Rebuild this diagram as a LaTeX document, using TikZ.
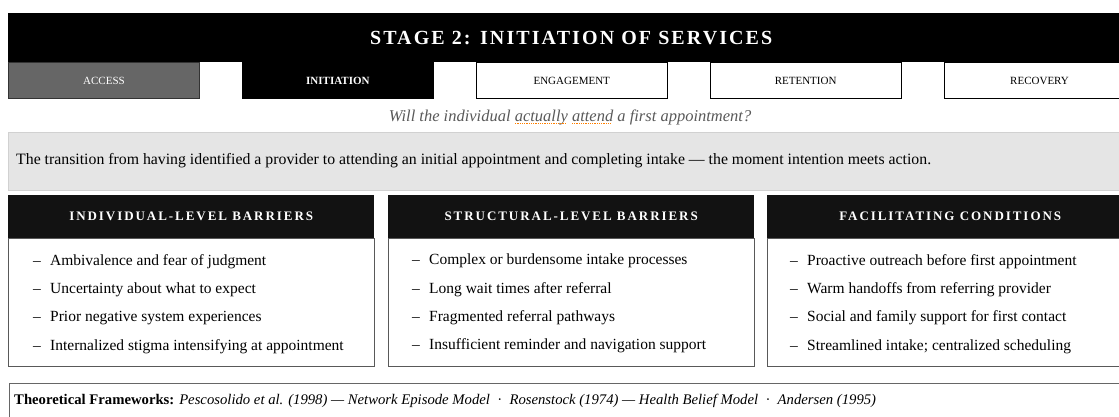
\documentclass[tikz,border=0pt]{standalone}
\usepackage{fontspec}
\setmainfont{Liberation Serif}
\newfontfamily\spacedserif[LetterSpace=10.5]{Liberation Serif}
\newfontfamily\widespaced[LetterSpace=15]{Liberation Serif}
\usepackage{tikz}
\usetikzlibrary{positioning}

% dotted spell-check mark under a word
\newsavebox\spellbox
\newcommand\spellmark[1]{\sbox\spellbox{#1}\leavevmode\rlap{\usebox\spellbox}\textcolor{orange}{\raisebox{-2.8pt}{\hbox to\wd\spellbox{\leaders\hbox{\rule{0.9pt}{0.9pt}\kern0.9pt}\hfil}}}}
\newcommand\dashitem{\makebox[17pt][l]{--}}

\begin{document}
\begin{tikzpicture}[x=1pt, y=-1pt,
  band/.style = {rectangle, fill=black, inner sep=0pt, anchor=north west, minimum width=1126pt},
  tab/.style = {rectangle, draw=black, line width=0.9pt, inner sep=0pt, anchor=north west, minimum width=191pt, minimum height=36pt, font=\fontsize{11}{13}\selectfont},
  hdr/.style = {rectangle, fill=black!93, text=white, inner sep=0pt, anchor=north west, minimum width=366pt, minimum height=43pt, font=\fontsize{13}{15}\selectfont\widespaced\bfseries},
  listbox/.style = {rectangle, draw=black!65, line width=0.8pt, inner sep=0pt, minimum width=366pt, minimum height=128pt},
  items/.style = {inner sep=0pt, anchor=north west, align=left, font=\fontsize{15.5}{28.3}\selectfont},
  node distance = 0pt]

\useasboundingbox (0,0) rectangle (1119,416);

% stage banner and tabs
\node[band, minimum height=49pt, text=white, font=\fontsize{20}{24}\selectfont\spacedserif\bfseries] (stage) at (8,13) {STAGE 2: INITIATION OF SERVICES};
\node[tab, fill=black!60, draw=black!80, text=white] (access) at (8,62) {ACCESS};
\node[tab, fill=black, text=white, font=\fontsize{11}{13}\selectfont\bfseries, right=42pt of access] (initiation) {INITIATION};
\node[tab, fill=white, right=42pt of initiation] (engagement) {ENGAGEMENT};
\node[tab, fill=white, right=42pt of engagement] (retention) {RETENTION};
\node[tab, fill=white, right=42pt of retention] (recovery) {RECOVERY};

% guiding question and definition
\node[text=black!65, font=\fontsize{16.5}{18}\selectfont\itshape] (question) at (570,117) {Will the individual \spellmark{actually} \spellmark{attend} a first appointment?};
\node[band, fill=black!10, draw=black!18, minimum height=58pt] (transition) at (8,132) {};
\node[anchor=west, inner sep=0pt, font=\fontsize{15.8}{18}\selectfont] (definition) at (16,161) {The transition from having identified a provider to attending an initial appointment and completing intake --- the moment intention meets action.};

% three columns
\node[hdr] (indiv) at (8,195) {INDIVIDUAL-LEVEL BARRIERS};
\node[hdr] (struct) at (388,195) {STRUCTURAL-LEVEL BARRIERS};
\node[hdr] (facil) at (767,195) {FACILITATING CONDITIONS};
\node[listbox, below=of indiv] (indivlist) {};
\node[listbox, below=of struct] (structlist) {};
\node[listbox, below=of facil] (facillist) {};

\node[items] (indivitems) at (33,254) {\dashitem Ambivalence and fear of judgment\\ \dashitem Uncertainty about what to expect\\ \dashitem Prior negative system experiences\\ \dashitem Internalized stigma intensifying at appointment};
\node[items] (structitems) at (412,254) {\dashitem Complex or burdensome intake processes\\ \dashitem Long wait times after referral\\ \dashitem Fragmented referral pathways\\ \dashitem Insufficient reminder and navigation support};
\node[items] (facilitems) at (790,254) {\dashitem Proactive outreach before first appointment\\ \dashitem Warm handoffs from referring provider\\ \dashitem Social and family support for first contact\\ \dashitem Streamlined intake; centralized scheduling};

% frameworks footer
\node[band, fill=white, draw=black!60, line width=0.8pt, minimum height=45pt] (frameworks) at (9,383) {};
\node[anchor=west, inner sep=0pt, font=\fontsize{14.7}{17}\selectfont] (frameworktext) at (14,401) {\textbf{Theoretical Frameworks:} \textit{Pescosolido et al. (1998) --- Network Episode Model}\ \ ·\ \ \textit{Rosenstock (1974) --- Health Belief Model}\ \ ·\ \ \textit{Andersen (1995)}};
\end{tikzpicture}
\end{document}
